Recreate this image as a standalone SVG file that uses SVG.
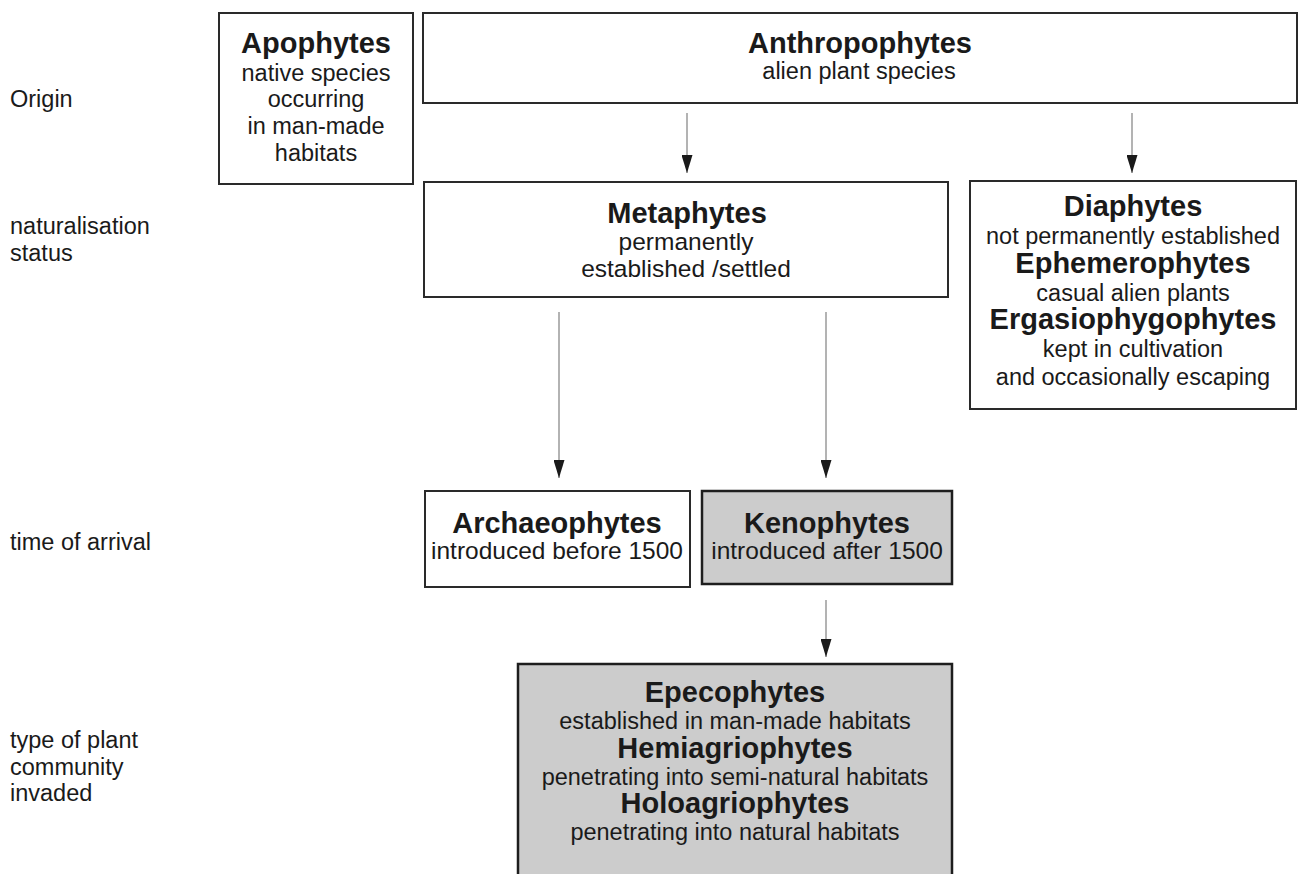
<svg xmlns="http://www.w3.org/2000/svg" width="1302" height="874" viewBox="0 0 1302 874">
<defs>
<marker id="ah" viewBox="0 -5.5 18 11" refX="18" refY="0" markerWidth="18" markerHeight="11" markerUnits="userSpaceOnUse" orient="auto">
<path d="M0,-5.5 L18,0 L0,5.5 z" fill="#1a1a1a"/>
</marker>
<style>
.box{fill:#ffffff;stroke:#2a2a2a;stroke-width:2}
.gbox{fill:#cccccc;stroke:#1e1e1e;stroke-width:2.5}
.t{font-family:"Liberation Sans",Arial,sans-serif;font-weight:bold;font-size:29px;fill:#1a1a1a;text-anchor:middle}
.s{font-family:"Liberation Sans",Arial,sans-serif;font-size:23.5px;fill:#1a1a1a;text-anchor:middle}
.s2{font-size:24.5px}
.lab{font-family:"Liberation Sans",Arial,sans-serif;font-size:23.5px;fill:#1a1a1a}
.c{stroke:#8a8a8a;stroke-width:1.3;fill:none;marker-end:url(#ah)}
</style>
</defs>
<rect width="1302" height="874" fill="#ffffff"/>
<g id="labels">
<text class="lab" x="10" y="107">Origin</text>
<text class="lab" x="10" y="234">naturalisation</text>
<text class="lab" x="10" y="261">status</text>
<text class="lab" x="10" y="550">time of arrival</text>
<text class="lab" x="10" y="748">type of plant</text>
<text class="lab" x="10" y="775">community</text>
<text class="lab" x="10" y="801">invaded</text>
</g>
<g id="connectors">
<line class="c" x1="687" y1="113" x2="687" y2="173"/>
<line class="c" x1="1132" y1="113" x2="1132" y2="173"/>
<line class="c" x1="559" y1="312" x2="559" y2="478"/>
<line class="c" x1="826" y1="312" x2="826" y2="478"/>
<line class="c" x1="826" y1="600" x2="826" y2="657"/>
</g>
<g id="apophytes">
<rect class="box" x="219" y="13" width="194" height="171"/>
<text class="t" x="316" y="53">Apophytes</text>
<text class="s" x="316" y="81">native species</text>
<text class="s" x="316" y="107">occurring</text>
<text class="s" x="316" y="134">in man-made</text>
<text class="s" x="316" y="161">habitats</text>
</g>
<g id="anthropophytes">
<rect class="box" x="423" y="13" width="874" height="90"/>
<text class="t" x="860" y="53">Anthropophytes</text>
<text class="s" x="859" y="79">alien plant species</text>
</g>
<g id="metaphytes">
<rect class="box" x="424" y="182" width="524" height="115"/>
<text class="t" x="687" y="223">Metaphytes</text>
<text class="s s2" x="686" y="250">permanently</text>
<text class="s s2" x="686" y="277">established /settled</text>
</g>
<g id="diaphytes">
<rect class="box" x="970" y="181" width="326" height="228"/>
<text class="t" x="1133" y="216">Diaphytes</text>
<text class="s" x="1133" y="244">not permanently established</text>
<text class="t" x="1133" y="273">Ephemerophytes</text>
<text class="s" x="1133" y="301">casual alien plants</text>
<text class="t" x="1133" y="329">Ergasiophygophytes</text>
<text class="s" x="1133" y="357">kept in cultivation</text>
<text class="s" x="1133" y="385">and occasionally escaping</text>
</g>
<g id="archaeophytes">
<rect class="box" x="425" y="491" width="265" height="96"/>
<text class="t" x="557" y="533">Archaeophytes</text>
<text class="s s2" x="557" y="559">introduced before 1500</text>
</g>
<g id="kenophytes">
<rect class="gbox" x="702" y="491" width="250" height="93"/>
<text class="t" x="827" y="533">Kenophytes</text>
<text class="s s2" x="827" y="559">introduced after 1500</text>
</g>
<g id="agriophytes">
<rect class="gbox" x="518" y="664" width="434" height="220"/>
<text class="t" x="735" y="702">Epecophytes</text>
<text class="s" x="735" y="729">established in man-made habitats</text>
<text class="t" x="735" y="758">Hemiagriophytes</text>
<text class="s" x="735" y="785">penetrating into semi-natural habitats</text>
<text class="t" x="735" y="813">Holoagriophytes</text>
<text class="s" x="735" y="840">penetrating into natural habitats</text>
</g>
</svg>
